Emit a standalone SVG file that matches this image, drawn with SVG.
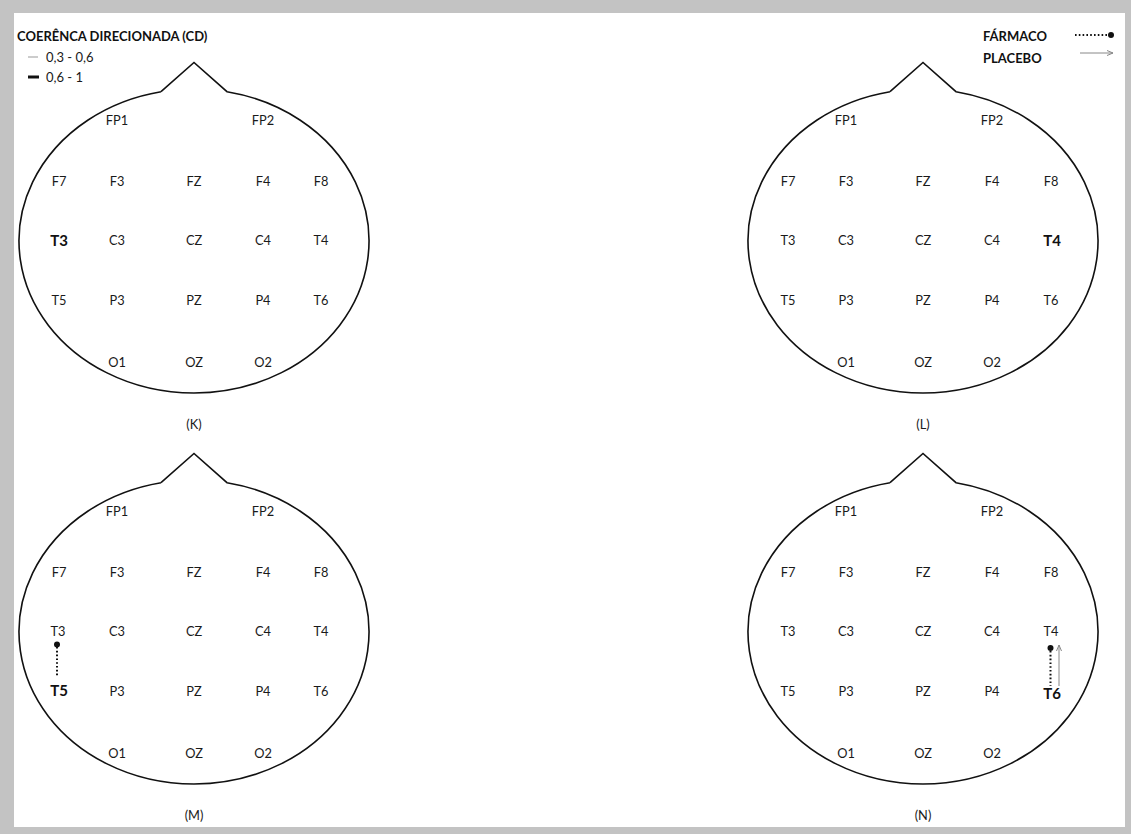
<svg xmlns="http://www.w3.org/2000/svg" width="1131" height="834" viewBox="0 0 1131 834">
<style>
.lbl{font-family:Lato,"Liberation Sans",sans-serif;font-size:12.8px;fill:#1a1a1a;text-anchor:middle}
.bold{font-weight:bold;font-size:15px;fill:#111}
.head{fill:none;stroke:#111;stroke-width:1.6}
.leg{font-family:Lato,"Liberation Sans",sans-serif;font-size:13px;fill:#1a1a1a}
.legb{font-family:Lato,"Liberation Sans",sans-serif;font-size:13px;font-weight:bold;fill:#111}
.dot{stroke:#111;stroke-width:2;stroke-dasharray:1.6 2.2;fill:none}
.plc{stroke:#888;stroke-width:1;fill:none}
</style>
<defs>
<marker id="arr" markerWidth="8" markerHeight="8" refX="7" refY="4" orient="auto" markerUnits="userSpaceOnUse">
<path d="M1,1.5 L7,4 L1,6.5" fill="none" stroke="#888" stroke-width="1"/>
</marker>
<g id="headShape">
<path class="head" d="M -33 -149.3 L 0 -178.5 L 33 -149.3 A 175 152 0 1 1 -33 -149.3"/>
</g>
</defs>
<rect x="0" y="0" width="1131" height="834" fill="#c3c3c3"/>
<rect x="14" y="13" width="1111" height="814" fill="#fff"/>

<g id="legend-cd">
<text class="legb" x="17" y="41">COERÊNCA DIRECIONADA (CD)</text>
<line x1="28" y1="57" x2="38" y2="57" stroke="#999" stroke-width="1"/>
<text class="leg" x="46" y="62">0,3 - 0,6</text>
<line x1="28" y1="77" x2="39" y2="77" stroke="#111" stroke-width="3"/>
<text class="leg" x="46" y="82">0,6 - 1</text>
</g>
<g id="legend-type">
<text class="legb" x="983" y="41">FÁRMACO</text>
<line class="dot" x1="1075" y1="35" x2="1108" y2="35"/>
<circle cx="1111" cy="35" r="3" fill="#111"/>
<text class="legb" x="983" y="62.5">PLACEBO</text>
<line class="plc" x1="1080" y1="53" x2="1113" y2="53" marker-end="url(#arr)"/>
</g>

<g id="head-K" transform="translate(194,241)">
<use href="#headShape"/>
<text class="lbl" x="-77" y="-116">FP1</text><text class="lbl" x="69" y="-116">FP2</text>
<text class="lbl" x="-135" y="-55">F7</text><text class="lbl" x="-77" y="-55">F3</text><text class="lbl" x="0" y="-55">FZ</text><text class="lbl" x="69" y="-55">F4</text><text class="lbl" x="127" y="-55">F8</text>
<text class="lbl bold" x="-135" y="5">T3</text><text class="lbl" x="-77" y="4">C3</text><text class="lbl" x="0" y="4">CZ</text><text class="lbl" x="69" y="4">C4</text><text class="lbl" x="127" y="4">T4</text>
<text class="lbl" x="-135" y="64">T5</text><text class="lbl" x="-77" y="64">P3</text><text class="lbl" x="0" y="64">PZ</text><text class="lbl" x="69" y="64">P4</text><text class="lbl" x="127" y="64">T6</text>
<text class="lbl" x="-77" y="126">O1</text><text class="lbl" x="0" y="126">OZ</text><text class="lbl" x="69" y="126">O2</text>
<text class="lbl" x="0" y="188">(K)</text>
</g>

<g id="head-L" transform="translate(923,241)">
<use href="#headShape"/>
<text class="lbl" x="-77" y="-116">FP1</text><text class="lbl" x="69" y="-116">FP2</text>
<text class="lbl" x="-135" y="-55">F7</text><text class="lbl" x="-77" y="-55">F3</text><text class="lbl" x="0" y="-55">FZ</text><text class="lbl" x="69" y="-55">F4</text><text class="lbl" x="128" y="-55">F8</text>
<text class="lbl" x="-135" y="4">T3</text><text class="lbl" x="-77" y="4">C3</text><text class="lbl" x="0" y="4">CZ</text><text class="lbl" x="69" y="4">C4</text><text class="lbl bold" x="129" y="5">T4</text>
<text class="lbl" x="-135" y="64">T5</text><text class="lbl" x="-77" y="64">P3</text><text class="lbl" x="0" y="64">PZ</text><text class="lbl" x="69" y="64">P4</text><text class="lbl" x="128" y="64">T6</text>
<text class="lbl" x="-77" y="126">O1</text><text class="lbl" x="0" y="126">OZ</text><text class="lbl" x="69" y="126">O2</text>
<text class="lbl" x="0" y="188">(L)</text>
</g>

<g id="head-M" transform="translate(194,632)">
<use href="#headShape"/>
<text class="lbl" x="-77" y="-116">FP1</text><text class="lbl" x="69" y="-116">FP2</text>
<text class="lbl" x="-135" y="-55">F7</text><text class="lbl" x="-77" y="-55">F3</text><text class="lbl" x="0" y="-55">FZ</text><text class="lbl" x="69" y="-55">F4</text><text class="lbl" x="127" y="-55">F8</text>
<text class="lbl" x="-136" y="4">T3</text><text class="lbl" x="-77" y="4">C3</text><text class="lbl" x="0" y="4">CZ</text><text class="lbl" x="69" y="4">C4</text><text class="lbl" x="127" y="4">T4</text>
<text class="lbl bold" x="-135" y="64">T5</text><text class="lbl" x="-77" y="64">P3</text><text class="lbl" x="0" y="64">PZ</text><text class="lbl" x="69" y="64">P4</text><text class="lbl" x="127" y="64">T6</text>
<text class="lbl" x="-77" y="126">O1</text><text class="lbl" x="0" y="126">OZ</text><text class="lbl" x="69" y="126">O2</text>
<text class="lbl" x="0" y="188">(M)</text>
</g>

<g id="head-N" transform="translate(923,632)">
<use href="#headShape"/>
<text class="lbl" x="-77" y="-116">FP1</text><text class="lbl" x="69" y="-116">FP2</text>
<text class="lbl" x="-135" y="-55">F7</text><text class="lbl" x="-77" y="-55">F3</text><text class="lbl" x="0" y="-55">FZ</text><text class="lbl" x="69" y="-55">F4</text><text class="lbl" x="128" y="-55">F8</text>
<text class="lbl" x="-135" y="4">T3</text><text class="lbl" x="-77" y="4">C3</text><text class="lbl" x="0" y="4">CZ</text><text class="lbl" x="69" y="4">C4</text><text class="lbl" x="128" y="4">T4</text>
<text class="lbl" x="-135" y="64">T5</text><text class="lbl" x="-77" y="64">P3</text><text class="lbl" x="0" y="64">PZ</text><text class="lbl" x="69" y="64">P4</text><text class="lbl bold" x="129" y="67">T6</text>
<text class="lbl" x="-77" y="126">O1</text><text class="lbl" x="0" y="126">OZ</text><text class="lbl" x="69" y="126">O2</text>
<text class="lbl" x="0" y="188">(N)</text>
</g>

<g id="connectors">
<line class="dot" x1="57" y1="647" x2="57" y2="677"/>
<circle cx="57" cy="644.5" r="3" fill="#111"/>
<line class="dot" x1="1050.5" y1="651" x2="1050.5" y2="686"/>
<circle cx="1050.5" cy="648" r="3" fill="#111"/>
<line class="plc" x1="1059" y1="686" x2="1059" y2="645" marker-end="url(#arr)"/>
</g>
</svg>
